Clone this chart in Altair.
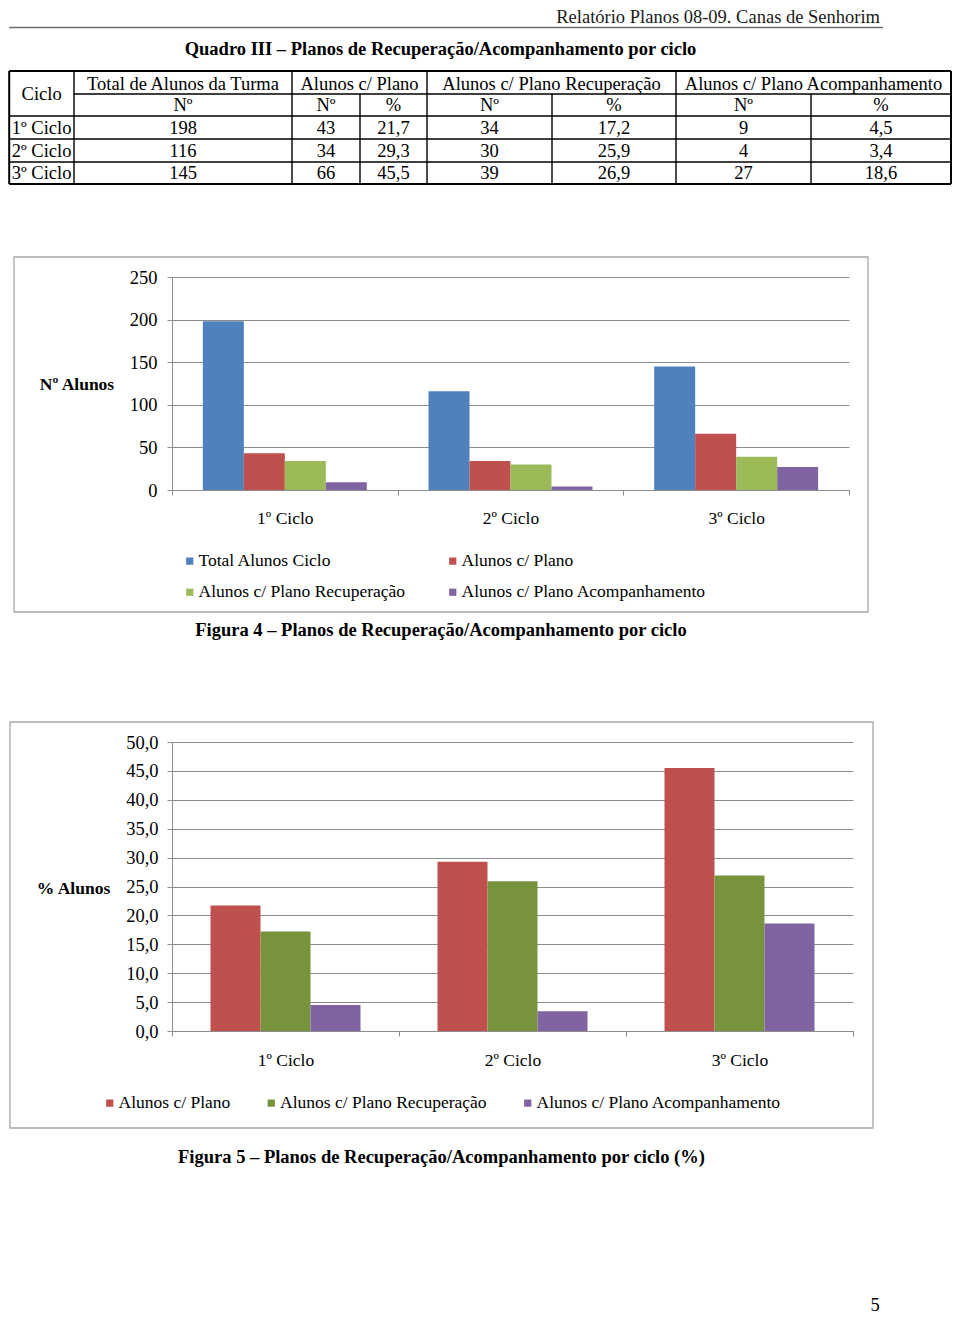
import altair as alt
import pandas as pd

FONT = "Liberation Serif"
BLACK = "#000000"
GRID = "#8c8c8c"
FRAME = "#a6a6a6"

# ---------------- values read from the page ----------------
ciclos = ["1º Ciclo", "2º Ciclo", "3º Ciclo"]
total_alunos = [198, 116, 145]
alunos_plano = [43, 34, 66]
alunos_recuperacao = [34, 30, 39]
alunos_acompanhamento = [9, 4, 27]
pct_plano = [21.7, 29.3, 45.5]
pct_recuperacao = [17.2, 25.9, 26.9]
pct_acompanhamento = [4.5, 3.4, 18.6]

series_n = ["Total Alunos Ciclo", "Alunos c/ Plano",
            "Alunos c/ Plano Recuperação", "Alunos c/ Plano Acompanhamento"]
series_pct = ["Alunos c/ Plano", "Alunos c/ Plano Recuperação",
              "Alunos c/ Plano Acompanhamento"]
colors_n = ["#4F81BD", "#C0504D", "#9BBB59", "#8064A2"]
colors_pct = ["#C0504D", "#77933C", "#8064A2"]

y_ticks_n = [0, 50, 100, 150, 200, 250]
y_ticks_pct = [0, 5, 10, 15, 20, 25, 30, 35, 40, 45, 50]

header_text = "Relatório Planos 08-09. Canas de Senhorim"
table_title = "Quadro III – Planos de Recuperação/Acompanhamento por ciclo"
table_first_col = "Ciclo"
table_group_headers = ["Total de Alunos da Turma", "Alunos c/ Plano",
                       "Alunos c/ Plano Recuperação", "Alunos c/ Plano Acompanhamento"]
table_sub_headers = ["Nº", "Nº", "%", "Nº", "%", "Nº", "%"]
y_title_n = "Nº Alunos"
y_title_pct = "% Alunos"
caption_4 = "Figura 4 – Planos de Recuperação/Acompanhamento por ciclo"
caption_5 = "Figura 5 – Planos de Recuperação/Acompanhamento por ciclo (%)"
page_number = "5"

# ---------------- layout (page pixel coordinates) ----------------
ORIGIN_X = 173                       # left edge of both plot areas
VIEW_W_A = 779                       # header/table block width (173 -> 952)
H_A = 247                            # header/table block height (page 8 -> 255)
COL_EDGES = [10.2, 75, 293, 361, 428, 553, 677, 812, 952]
ROW_EDGES = [71, 94, 116, 139, 162, 184]
HEADER_BASE = 23
UNDERLINE_Y = 27.5
TITLE_BASE = 55

P1 = dict(top=277, bottom=490, right=850)
P2 = dict(top=742, bottom=1031, right=854)
FRAME_1 = (15, 869, 257, 612)
FRAME_2 = (11, 874, 722, 1128)

FS_TABLE = 18.5
FS_XLAB = 17.5
FS_YLAB = 18.5
FS_LEG = 17.5


def mid(a, b):
    return (a + b) / 2


def fmt_pct(v):
    return f"{v:.1f}".replace(".", ",")


# ---------------- block A: header + table ----------------
C, R = COL_EDGES, ROW_EDGES
cells = [(mid(C[0], C[1]), 100, table_first_col)]
for (a, b), t in zip([(1, 2), (2, 4), (4, 6), (6, 8)], table_group_headers):
    cells.append((mid(C[a], C[b]), R[1] - 4.5, t))
for i, t in enumerate(table_sub_headers):
    cells.append((mid(C[i + 1], C[i + 2]), R[2] - 5.5, t))
rows = list(zip(ciclos, total_alunos, alunos_plano, pct_plano, alunos_recuperacao,
                pct_recuperacao, alunos_acompanhamento, pct_acompanhamento))
for r, row in enumerate(rows):
    yb = R[3 + r] - 5
    cells.append((mid(C[0], C[1]), yb, row[0]))
    for i, v in enumerate(row[1:]):
        s = fmt_pct(v) if isinstance(v, float) else str(v)
        cells.append((mid(C[i + 1], C[i + 2]), yb, s))
cells_df = pd.DataFrame(cells, columns=["x", "y", "t"])

OUT, INN = 2.0, 1.4
rules = [(C[0], C[-1], R[0], R[0], OUT, BLACK),
         (C[1], C[-1], R[1], R[1], INN, BLACK)]
for yy in R[2:-1]:
    rules.append((C[0], C[-1], yy, yy, INN, BLACK))
rules.append((C[0], C[-1], R[-1], R[-1], OUT, BLACK))
rules.append((C[0], C[0], R[0], R[-1], OUT, BLACK))
rules.append((C[-1], C[-1], R[0], R[-1], OUT, BLACK))
for i in [1, 2, 4, 6]:
    rules.append((C[i], C[i], R[0], R[-1], INN, BLACK))
for i in [3, 5, 7]:
    rules.append((C[i], C[i], R[1], R[-1], INN, BLACK))
rules.append((10.2, 884, UNDERLINE_Y, UNDERLINE_Y, 1.3, "#6b6b6b"))
rules_df = pd.DataFrame(rules, columns=["x", "x2", "y", "y2", "w", "c"])

xs_a = alt.Scale(domain=[ORIGIN_X, ORIGIN_X + VIEW_W_A], range=[0, VIEW_W_A], nice=False, zero=False)
ys_a = alt.Scale(domain=[8, 8 + H_A], range=[0, H_A], nice=False, zero=False)

rule_layer = alt.Chart(rules_df).mark_rule().encode(
    x=alt.X("x:Q", scale=xs_a, axis=None),
    x2="x2:Q",
    y=alt.Y("y:Q", scale=ys_a, axis=None),
    y2="y2:Q",
    strokeWidth=alt.StrokeWidth("w:Q", scale=None),
    color=alt.Color("c:N", scale=None),
)
cell_layer = alt.Chart(cells_df).mark_text(
    font=FONT, fontSize=FS_TABLE, align="center", baseline="alphabetic", color=BLACK
).encode(
    x=alt.X("x:Q", scale=xs_a, axis=None),
    y=alt.Y("y:Q", scale=ys_a, axis=None),
    text="t:N",
)
head_df = pd.DataFrame({"x": [881], "y": [HEADER_BASE], "t": [header_text]})
head_layer = alt.Chart(head_df).mark_text(
    font=FONT, fontSize=18.5, align="right", baseline="alphabetic", color="#1a1a1a"
).encode(
    x=alt.X("x:Q", scale=xs_a, axis=None),
    y=alt.Y("y:Q", scale=ys_a, axis=None),
    text="t:N",
)
title_df = pd.DataFrame({"x": [441.5], "y": [TITLE_BASE], "t": [table_title]})
title_layer = alt.Chart(title_df).mark_text(
    font=FONT, fontSize=18.5, fontWeight="bold", align="center", baseline="alphabetic", color=BLACK
).encode(
    x=alt.X("x:Q", scale=xs_a, axis=None),
    y=alt.Y("y:Q", scale=ys_a, axis=None),
    text="t:N",
)
block_a = alt.layer(rule_layer, cell_layer, head_layer, title_layer).properties(
    width=VIEW_W_A, height=H_A)

one = pd.DataFrame({"k": [0]})


def frame(f, oy):
    return alt.Chart(one).mark_rect(fill="white", fillOpacity=0, stroke=FRAME, strokeWidth=1.3).encode(
        x=alt.value(f[0] - ORIGIN_X), x2=alt.value(f[1] - ORIGIN_X),
        y=alt.value(f[2] - oy), y2=alt.value(f[3] - oy))


def spacer(y1, y2):
    return alt.Chart(one).mark_rect(opacity=0).encode(
        x=alt.value(0), x2=alt.value(10), y=alt.value(y1), y2=alt.value(y2))


def label(text, cx, base, oy, size=18.5, weight="bold"):
    return alt.Chart(one).mark_text(
        font=FONT, fontSize=size, fontWeight=weight, align="center", baseline="alphabetic", color=BLACK
    ).encode(x=alt.value(cx - ORIGIN_X), y=alt.value(base - oy), text=alt.value(text))


def x_axis(pad):
    return alt.Axis(title=None, labelAngle=0, tickBand="extent", tickSize=5, tickColor=GRID,
                    domainColor=GRID, labelFont=FONT, labelFontSize=FS_XLAB, labelColor=BLACK,
                    labelPadding=pad, grid=False)


def y_axis(values, title, tcx, tcy, oy, pad, **kw):
    return alt.Axis(values=values, title=title, titleAngle=0, titleAlign="center",
                    titleBaseline="middle", titleX=tcx - ORIGIN_X, titleY=tcy - oy,
                    titleFont=FONT, titleFontSize=17.5, titleFontWeight="bold", titleColor=BLACK,
                    labelFont=FONT, labelFontSize=FS_YLAB, labelColor=BLACK, labelPadding=pad,
                    tickSize=5, tickColor=GRID, domainColor=GRID, grid=True, gridColor=GRID,
                    gridOpacity=1, gridWidth=1, **kw)


def legend(x_page, y_top, oy, cols, col_pad, row_pad=0, direction="horizontal"):
    return alt.Legend(title=None, orient="none", legendX=x_page - ORIGIN_X, legendY=y_top - oy,
                      columns=cols, direction=direction, columnPadding=col_pad, rowPadding=row_pad,
                      symbolType="square", symbolSize=52, symbolStrokeWidth=0,
                      labelFont=FONT, labelFontSize=FS_LEG, labelColor=BLACK,
                      labelOffset=0, padding=0, labelLimit=400)


# ---------------- block B: counts ----------------
df_n = pd.DataFrame({
    "ciclo": ciclos * 4,
    "serie": [s for s in series_n for _ in ciclos],
    "valor": total_alunos + alunos_plano + alunos_recuperacao + alunos_acompanhamento,
})
oy1 = P1["top"]
bars_n = alt.Chart(df_n).mark_bar().encode(
    x=alt.X("ciclo:N", sort=ciclos, scale=alt.Scale(domain=ciclos, paddingInner=0, paddingOuter=0),
            axis=x_axis(14)),
    xOffset=alt.XOffset("serie:N", sort=series_n,
                        scale=alt.Scale(domain=series_n, paddingInner=0, paddingOuter=0.7525)),
    y=alt.Y("valor:Q", scale=alt.Scale(domain=[0, 250], nice=False),
            axis=y_axis(y_ticks_n, y_title_n, 77.5, 384, oy1, 10, format="d")),
    color=alt.Color("serie:N", sort=series_n, scale=alt.Scale(domain=series_n, range=colors_n),
                    legend=legend(182, 552, oy1, 2, 38, row_pad=12.5)),
)
block_b = alt.layer(
    frame(FRAME_1, oy1), bars_n, label(caption_4, 442, 636, oy1), spacer(-22, 443)
).properties(width=P1["right"] - ORIGIN_X, height=P1["bottom"] - P1["top"])

# ---------------- block C: percentages ----------------
df_p = pd.DataFrame({
    "ciclo": ciclos * 3,
    "serie": [s for s in series_pct for _ in ciclos],
    "valor": pct_plano + pct_recuperacao + pct_acompanhamento,
})
oy2 = P2["top"]
bars_p = alt.Chart(df_p).mark_bar().encode(
    x=alt.X("ciclo:N", sort=ciclos, scale=alt.Scale(domain=ciclos, paddingInner=0, paddingOuter=0),
            axis=x_axis(15)),
    xOffset=alt.XOffset("serie:N", sort=series_pct,
                        scale=alt.Scale(domain=series_pct, paddingInner=0, paddingOuter=0.77)),
    y=alt.Y("valor:Q", scale=alt.Scale(domain=[0, 50], nice=False),
            axis=y_axis(y_ticks_pct, y_title_pct, 74, 888, oy2, 9,
                        labelExpr="replace(format(datum.value, '.1f'), '.', ',')")),
    color=alt.Color("serie:N", sort=series_pct, scale=alt.Scale(domain=series_pct, range=colors_pct),
                    legend=legend(102, 1094, oy2, 3, 31.5)),
)
block_c = alt.layer(
    frame(FRAME_2, oy2), bars_p, label(caption_5, 442.5, 1163, oy2),
    label(page_number, 876, 1311, oy2, size=18.5, weight="normal"),
    spacer(-22, 1315 - oy2)
).properties(width=P2["right"] - ORIGIN_X, height=P2["bottom"] - P2["top"])

chart = alt.vconcat(block_a, block_b, block_c, spacing=0).resolve_scale(
    x="independent", y="independent", xOffset="independent", color="independent"
).configure_view(strokeWidth=0).properties(padding=0, background="white")

chart.save("out.html", embed_options={"renderer": "svg", "actions": False})
